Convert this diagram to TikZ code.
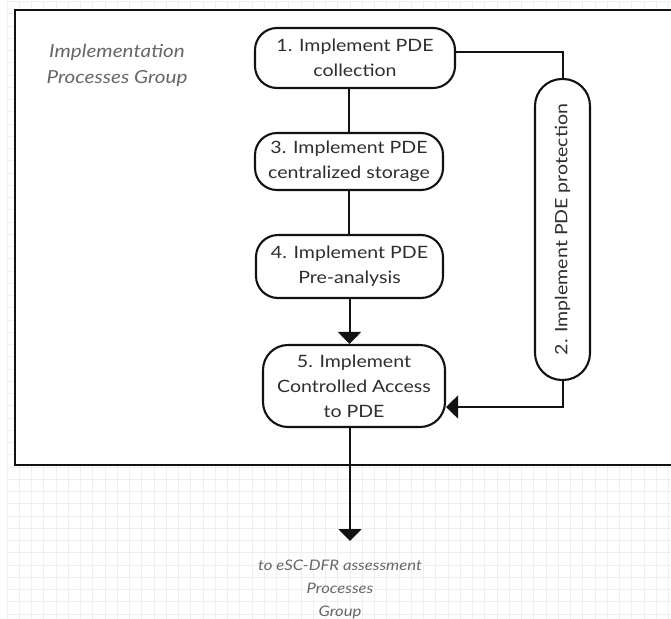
\documentclass[tikz,border=0pt]{standalone}
\usepackage{fontspec}
\setmainfont{Lato}[FakeStretch=1.15]
\usetikzlibrary{arrows.meta}
\definecolor{inkline}{HTML}{121212}
\definecolor{labeltext}{HTML}{2E2E2E}
\definecolor{notegray}{HTML}{676767}
\definecolor{gridgray}{HTML}{EFEFEF}
\tikzset{
  proc/.style={draw=inkline, line width=2.1pt, rounded corners=22pt, fill=white,
    text=labeltext, align=center, inner sep=0pt,
    font=\fontsize{17}{25}\selectfont},
  conn/.style={draw=inkline, line width=2pt},
  arr/.style={conn, -{Triangle[width=23pt,length=12pt]}},
  note/.style={text=notegray, align=center, inner sep=0pt},
}
\begin{document}
\begin{tikzpicture}[x=1pt,y=-1pt]
\useasboundingbox (0,0) rectangle (671,618);
\fill[white] (0,0) rectangle (671,618);
% background drawing grid
\begin{scope}[shift={(7.05,1.55)}]
  \draw[gridgray, line width=0.8pt, step=12.25pt] (0,0) grid (664,617);
\end{scope}
% group frame
\draw[line width=2.2pt, draw=inkline, fill=white] (15,10) rectangle (690,465);

% group title
\node[note, font=\itshape\fontsize{18}{26}\selectfont] (grp) at (117,65)
  {Implementation\\Processes Group};

% process steps
\node[proc, minimum width=200pt, minimum height=60pt] (n1) at (355,58)
  {1. Implement PDE\\collection};
\node[proc, minimum width=188pt, minimum height=57pt] (n3) at (349,161.5)
  {3. Implement PDE\\centralized storage};
\node[proc, minimum width=187pt, minimum height=63pt] (n4) at (349.5,266.5)
  {4. Implement PDE\\Pre-analysis};
\node[proc, minimum width=182pt, minimum height=82pt, rounded corners=25pt] (n5) at (354,386)
  {5. Implement\\Controlled Access\\to PDE};
\node[proc, rotate=90, minimum width=301pt, minimum height=55pt, rounded corners=27pt] (n2) at (562.5,229.5)
  {2. Implement PDE protection};

% outgoing label
\node[note, font=\itshape\fontsize{14.5}{23}\selectfont] (next) at (340,589)
  {to eSC-DFR assessment\\Processes\\Group};
\coordinate (out) at (350,541);

% connectors
\draw[conn] (n1.east |- 0,52) -| (n2.east);
\draw[conn] (n3.north |- n1.south) -- (n3.north);
\draw[conn] (n3.south) -- (n3.south |- n4.north);
\draw[arr] (n4.south) -- (n4.south |- n5.north);
\draw[arr] (n2.west) |- (n5.east |- 0,407);
\draw[arr] (n5.south -| out) -- (out);
\end{tikzpicture}
\end{document}
